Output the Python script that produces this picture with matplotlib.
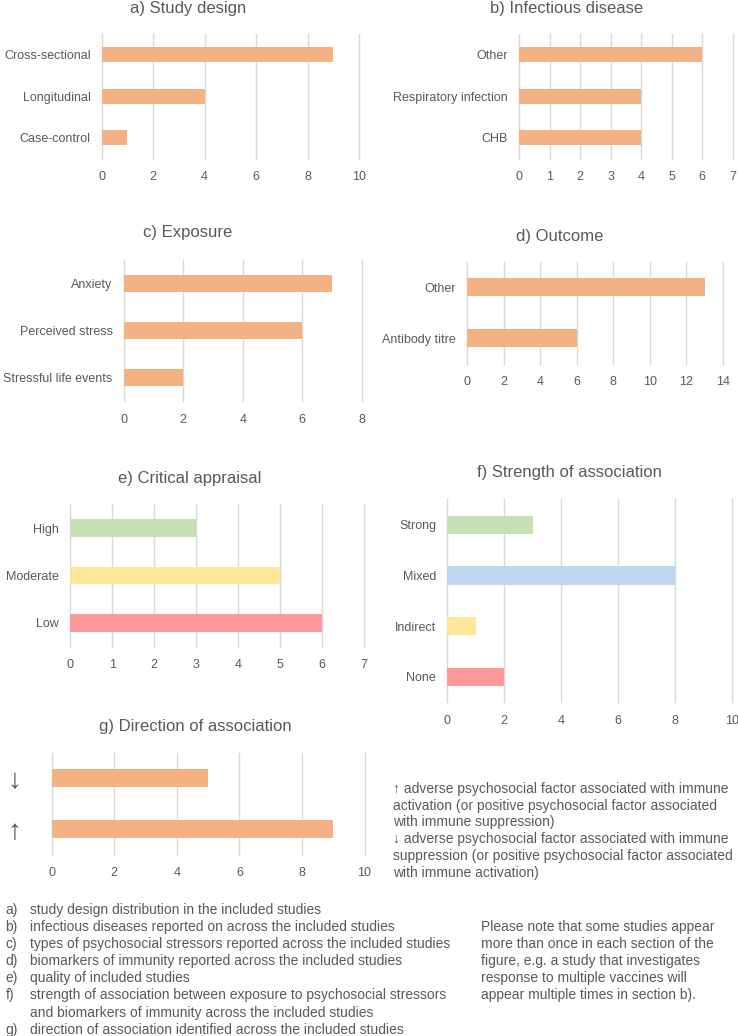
import matplotlib
matplotlib.use("Agg")
import matplotlib.pyplot as plt

W, H = 738, 1036
GREY = "#595959"
GRID = "#D9D9D9"
ORANGE = "#F4B183"
GREEN = "#C5E0B4"
YELLOW = "#FFE699"
RED = "#FF9999"
BLUE = "#BDD7EE"

plt.rcParams["font.family"] = ["Liberation Sans", "DejaVu Sans"]

# data (top to bottom as displayed)
design_cats = ["Cross-sectional", "Longitudinal", "Case-control"]
design_vals = [9, 4, 1]
disease_cats = ["Other", "Respiratory infection", "CHB"]
disease_vals = [6, 4, 4]
exposure_cats = ["Anxiety", "Perceived stress", "Stressful life events"]
exposure_vals = [7, 6, 2]
outcome_cats = ["Other", "Antibody titre"]
outcome_vals = [13, 6]
appraisal_cats = ["High", "Moderate", "Low"]
appraisal_vals = [3, 5, 6]
strength_cats = ["Strong", "Mixed", "Indirect", "None"]
strength_vals = [3, 8, 1, 2]
direction_cats = ["\u2193", "\u2191"]
direction_vals = [5, 9]

fig = plt.figure(figsize=(W / 100, H / 100), dpi=100)


def panel(box, cats, vals, xmax, step, colors, title, title_xy,
          label_size=9, label_pad=8):
    l, t, r, b = box
    ax = fig.add_axes([l / W, 1 - b / H, (r - l) / W, (b - t) / H])
    ax.barh(range(len(cats)), vals, height=0.36, color=colors, zorder=3)
    ax.set_ylim(len(cats) - 0.5, -0.5)
    ax.set_xlim(0, xmax)
    ax.set_xticks(range(0, xmax + 1, step))
    ax.set_yticks(range(len(cats)))
    ax.set_yticklabels(cats, fontsize=label_size, color=GREY)
    ax.tick_params(axis="x", length=0, pad=9, labelsize=9, labelcolor=GREY)
    ax.tick_params(axis="y", length=0, pad=label_pad)
    ax.grid(axis="x", color=GRID, linewidth=1, zorder=0)
    for gl in ax.get_xgridlines():
        gl.set_clip_on(False)
    for s in ax.spines.values():
        s.set_visible(False)
    fig.text(title_xy[0] / W, 1 - title_xy[1] / H, title, fontsize=12,
             color=GREY, ha="center", va="center")
    return ax


panel((101.7, 33.5, 359, 158.5), design_cats, design_vals, 10, 2, ORANGE,
      "a) Study design", (188, 8))
panel((519, 33.5, 732.7, 158.5), disease_cats, disease_vals, 7, 1, ORANGE,
      "b) Infectious disease", (567, 8))
panel((123.7, 259.7, 361.7, 401.3), exposure_cats, exposure_vals, 8, 2, ORANGE,
      "c) Exposure", (188, 233))
panel((467, 261.5, 723, 363.5), outcome_cats, outcome_vals, 14, 2, ORANGE,
      "d) Outcome", (560, 236))
panel((70.3, 504.3, 364, 646.7), appraisal_cats, appraisal_vals, 7, 1,
      [GREEN, YELLOW, RED], "e) Critical appraisal", (190, 478))
panel((447.3, 499.3, 731.7, 702.3), strength_cats, strength_vals, 10, 2,
      [GREEN, BLUE, YELLOW, RED], "f) Strength of association", (569, 472))
panel((51.7, 752.5, 364.5, 854.5), direction_cats, direction_vals, 10, 2, ORANGE,
      "g) Direction of association", (195, 726), label_size=20, label_pad=22)

note_g = [
    "\u2191 adverse psychosocial factor associated with immune",
    "activation (or positive psychosocial factor associated",
    "with immune suppression)",
    "\u2193 adverse psychosocial factor associated with immune",
    "suppression (or positive psychosocial factor associated",
    "with immune activation)",
]
for i, line in enumerate(note_g):
    fig.text(393 / W, 1 - (789 + i * 16.7) / H, line, fontsize=10,
             color=GREY, ha="left", va="center")

legend_keys = ["a)", "b)", "c)", "d)", "e)", "f)", "", "g)"]
legend_lines = [
    "study design distribution in the included studies",
    "infectious diseases reported on across the included studies",
    "types of psychosocial stressors reported across the included studies",
    "biomarkers of immunity reported across the included studies",
    "quality of included studies",
    "strength of association between exposure to psychosocial stressors",
    "and biomarkers of immunity across the included studies",
    "direction of association identified across the included studies",
]
for i, (k, line) in enumerate(zip(legend_keys, legend_lines)):
    y = 1 - (910 + i * 17.1) / H
    fig.text(5.6 / W, y, k, fontsize=10, color=GREY, ha="left", va="center")
    fig.text(30 / W, y, line, fontsize=10, color=GREY, ha="left", va="center")

note = [
    "Please note that some studies appear",
    "more than once in each section of the",
    "figure, e.g. a study that investigates",
    "response to multiple vaccines will",
    "appear multiple times in section b).",
]
for i, line in enumerate(note):
    fig.text(481 / W, 1 - (927.1 + i * 17.1) / H, line, fontsize=10,
             color=GREY, ha="left", va="center")

fig.savefig("out.png", dpi=100, facecolor="white")
